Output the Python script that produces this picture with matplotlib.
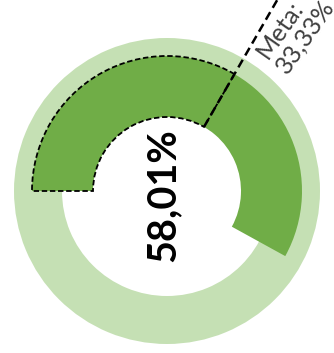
import numpy as np
import matplotlib.pyplot as plt

# valores do gráfico
realizado = 58.01
meta = 33.33
rotulo_centro = '58,01%'
rotulo_meta = ['Meta:', '33,33%']

verde_claro = '#c5e0b4'
verde_escuro = '#70ad47'

W, H = 334, 353
cx, cy = 167, H - 191
R_fundo, r_fundo = 153, 105
R_barra, r_barra = 135, 74

fig = plt.figure(figsize=(W / 100, H / 100), dpi=100)
ax = fig.add_axes([0, 0, 1, 1])

# anel de fundo
ax.pie([100], radius=R_fundo, center=(cx, cy), colors=[verde_claro],
       wedgeprops=dict(width=R_fundo - r_fundo, linewidth=0), frame=True)

# valor realizado
ax.pie([realizado, 100 - realizado], radius=R_barra, center=(cx, cy),
       colors=[verde_escuro, 'none'], startangle=180, counterclock=False,
       wedgeprops=dict(width=R_barra - r_barra, linewidth=0), frame=True)

# meta (contorno tracejado)
wedges, _ = ax.pie([meta, 100 - meta], radius=R_barra, center=(cx, cy),
                   colors=['none', 'none'], startangle=180, counterclock=False,
                   wedgeprops=dict(width=R_barra - r_barra, linewidth=1.3,
                                   edgecolor='black', linestyle=(0, (3, 1.5))),
                   frame=True)
wedges[1].set_edgecolor('none')

# linha da meta
ang = np.deg2rad(180 - meta / 100 * 360)
rr = np.array([r_barra, 240])
ax.plot(cx + rr * np.cos(ang), cy + rr * np.sin(ang), color='black',
        lw=1.8, linestyle=(0, (3.5, 2)), solid_capstyle='butt')

ax.text(cx - 4, cy - 4, rotulo_centro, rotation=90, ha='center', va='center',
        fontsize=28.5, fontweight='bold', family='Lato', color='black')

for (x0, y0), linha in zip([(268, H - 60), (287, H - 75)], rotulo_meta):
    ax.text(x0, y0, linha, rotation=55, ha='left', va='baseline',
            rotation_mode='anchor', fontsize=18, family='Lato', color='#404040')

ax.set_xlim(0, W)
ax.set_ylim(0, H)
ax.set_aspect('auto')
ax.axis('off')

fig.savefig('out.png', dpi=100)
